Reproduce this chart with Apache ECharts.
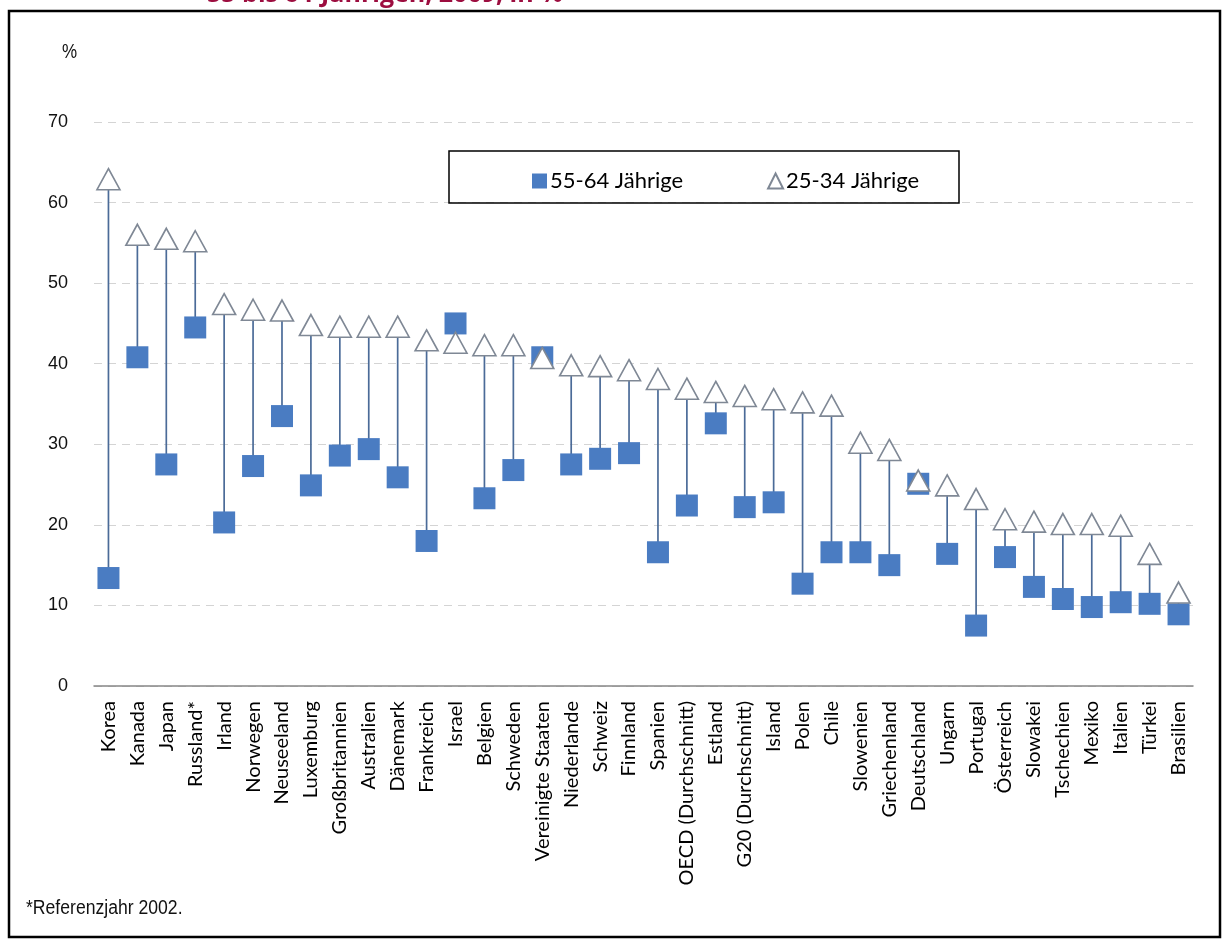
<!DOCTYPE html>
<html>
<head>
<meta charset="utf-8">
<script src="https://cdn.jsdelivr.net/npm/echarts@6/dist/echarts.min.js"></script>
<style>
html,body{margin:0;padding:0;background:#fff;}
#chart{width:1223px;height:941px;}
</style>
</head>
<body>
<div id="chart"></div>
<script>
const categories = ['Korea','Kanada','Japan','Russland*','Irland','Norwegen','Neuseeland','Luxemburg','Großbritannien','Australien','Dänemark','Frankreich','Israel','Belgien','Schweden','Vereinigte Staaten','Niederlande','Schweiz','Finnland','Spanien','OECD (Durchschnitt)','Estland','G20 (Durchschnitt)','Island','Polen','Chile','Slowenien','Griechenland','Deutschland','Ungarn','Portugal','Österreich','Slowakei','Tschechien','Mexiko','Italien','Türkei','Brasilien'];
const age5564 = [13.4,40.8,27.5,44.5,20.3,27.3,33.5,24.9,28.6,29.4,25.9,18.0,45.0,23.3,26.8,40.8,27.5,28.2,28.9,16.6,22.4,32.6,22.2,22.8,12.7,16.6,16.6,15.0,25.1,16.4,7.5,16.0,12.3,10.8,9.8,10.4,10.2,8.9];
const age2534 = [62.9,56.0,55.5,55.2,47.4,46.7,46.6,44.8,44.6,44.6,44.6,42.9,42.6,42.3,42.3,40.7,39.8,39.7,39.2,38.1,36.9,36.5,36.0,35.6,35.2,34.8,30.2,29.3,25.5,24.9,23.2,20.7,20.4,20.1,20.1,19.9,16.4,11.6];
const yTicks = [0,10,20,30,40,50,60,70];
const seriesNames = ['55-64 Jährige','25-34 Jährige'];

const chart = echarts.init(document.getElementById('chart'));
const rangeData = categories.map((c,i)=>[i, age5564[i], age2534[i]]);

chart.setOption({
  animation:false,
  backgroundColor:'#fff',
  grid:{left:94,right:30,top:122,bottom:255,containLabel:false},
  legend:{
    left:527, top:165, itemWidth:15, itemHeight:15, itemGap:84,
    textStyle:{fontFamily:'Lato',fontSize:22,color:'#000',padding:[0,0,0,-2]},
    data:[{name:seriesNames[0],icon:'rect'},{name:seriesNames[1],icon:'triangle'}]
  },
  xAxis:{
    type:'category', data:categories, boundaryGap:true,
    axisLine:{lineStyle:{color:'#868686',width:1.5}},
    axisTick:{show:false},
    axisLabel:{rotate:90,interval:0,margin:15,fontFamily:'Lato',fontSize:20,color:'#000'}
  },
  yAxis:{
    type:'value', min:yTicks[0], max:yTicks[yTicks.length-1], interval:10,
    axisLine:{show:false}, axisTick:{show:false},
    axisLabel:{margin:26,fontFamily:'Liberation Sans',fontSize:18,color:'#111'},
    splitLine:{lineStyle:{color:'#d4d4d4',type:[8,6],width:1.2}}
  },
  graphic:[
    {type:'rect',shape:{x:9,y:11,width:1211,height:926},style:{fill:'none',stroke:'#000',lineWidth:2.5},silent:true},
    {type:'rect',shape:{x:449,y:151,width:510,height:52},style:{fill:'none',stroke:'#000',lineWidth:1.5},silent:true,z:10},
    {type:'text',x:207,y:7,style:{text:'55 bis 64-Jährigen, 2009, in %',fill:'#9c0d3f',font:'bold 25px "Open Sans"',textVerticalAlign:'bottom'},silent:true},
    {type:'text',x:62,y:42,scaleX:0.85,style:{text:'%',fill:'#111',font:'20px "Liberation Sans"'},silent:true},
    {type:'text',x:26,y:898,scaleX:0.88,style:{text:'*Referenzjahr 2002.',fill:'#111',font:'20px "Liberation Sans"'},silent:true}
  ],
  series:[
    {
      type:'custom', name:'range', z:1, silent:true,
      data:rangeData,
      encode:{x:0,y:[1,2]},
      renderItem:function(params,api){
        const p1 = api.coord([api.value(0), api.value(1)]);
        const p2 = api.coord([api.value(0), api.value(2)]);
        return {type:'line',shape:{x1:p1[0],y1:p1[1],x2:p2[0],y2:p2[1]},style:{stroke:'#4b6b98',lineWidth:1.7}};
      }
    },
    {
      type:'scatter', name:seriesNames[0], z:3, symbol:'rect', symbolSize:22,
      itemStyle:{color:'#4a7cc2',opacity:1},
      data:age5564
    },
    {
      type:'scatter', name:seriesNames[1], z:4, symbol:'triangle', symbolSize:[23,21],
      itemStyle:{color:'#fff',borderColor:'#7f8895',borderWidth:1.6,opacity:1},
      data:age2534
    }
  ]
});
</script>
</body>
</html>
